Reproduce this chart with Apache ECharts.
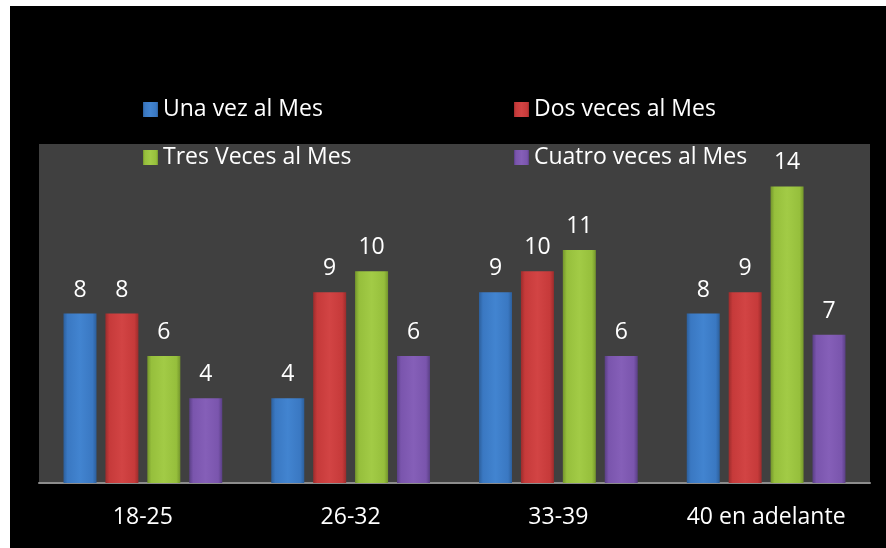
<!DOCTYPE html>
<html>
<head>
<meta charset="utf-8">
<script src="https://cdn.jsdelivr.net/npm/echarts@6/dist/echarts.min.js"></script>
<style>
  html, body { margin: 0; padding: 0; background: #ffffff; }
  #chart { position: absolute; left: 10px; top: 6px; width: 876px; height: 542px; background: #000000; }
</style>
</head>
<body>
<div id="chart"></div>
<script>
// Age groups and how often each group goes, per month
const categories = ['18-25', '26-32', '33-39', '40 en adelante'];
const seriesNames = ['Una vez al Mes', 'Dos veces al Mes', 'Tres Veces al Mes', 'Cuatro veces al Mes'];
const unaVez = [8, 4, 9, 8];
const dosVeces = [8, 9, 10, 9];
const tresVeces = [6, 10, 11, 14];
const cuatroVeces = [4, 6, 6, 7];

const FONT = '"Open Sans", Lato, sans-serif';

// darker edges, lighter middle: a soft bevelled look
function bevel(dark, mid, light) {
  return new echarts.graphic.LinearGradient(0, 0, 1, 0, [
    { offset: 0, color: dark },
    { offset: 0.12, color: mid },
    { offset: 0.5, color: light },
    { offset: 0.88, color: mid },
    { offset: 1, color: dark }
  ]);
}

const palettes = [
  bevel('#2c5f9c', '#3a78c2', '#4284d0'),
  bevel('#9c2c2c', '#c63a3a', '#d24444'),
  bevel('#74962c', '#96bf3c', '#a2cb46'),
  bevel('#5a3f86', '#7a55ad', '#855fb8')
];
const values = [unaVez, dosVeces, tresVeces, cuatroVeces];

const chart = echarts.init(document.getElementById('chart'));

const legendPos = [
  { left: 128, top: 87 },
  { left: 499, top: 87 },
  { left: 128, top: 135 },
  { left: 499, top: 135 }
];

chart.setOption({
  backgroundColor: '#000000',
  animation: false,
  legend: seriesNames.map((name, i) => ({
    data: [name],
    left: legendPos[i].left,
    top: legendPos[i].top,
    icon: 'rect',
    itemWidth: 15,
    itemHeight: 15,
    itemGap: 8,
    textStyle: { color: '#ffffff', fontSize: 23, fontFamily: FONT }
  })),
  grid: {
    left: 29, right: 16, top: 138, bottom: 65,
    show: true, backgroundColor: '#404040', borderWidth: 0
  },
  xAxis: {
    type: 'category',
    data: categories,
    axisLine: { lineStyle: { color: '#8c8c8c', width: 2 } },
    axisTick: { show: false },
    axisLabel: { color: '#ffffff', fontSize: 23, fontFamily: FONT, margin: 23 }
  },
  yAxis: {
    type: 'value',
    min: 0, max: 16, interval: 2,
    show: false,
    splitLine: { show: false }
  },
  series: seriesNames.map((name, i) => ({
    name: name,
    type: 'bar',
    data: values[i],
    barWidth: 33,
    barGap: '27%',
    itemStyle: { color: palettes[i] },
    label: {
      show: true, position: 'top', distance: 12,
      color: '#ffffff', fontSize: 23, fontFamily: FONT
    }
  }))
});
</script>
</body>
</html>
